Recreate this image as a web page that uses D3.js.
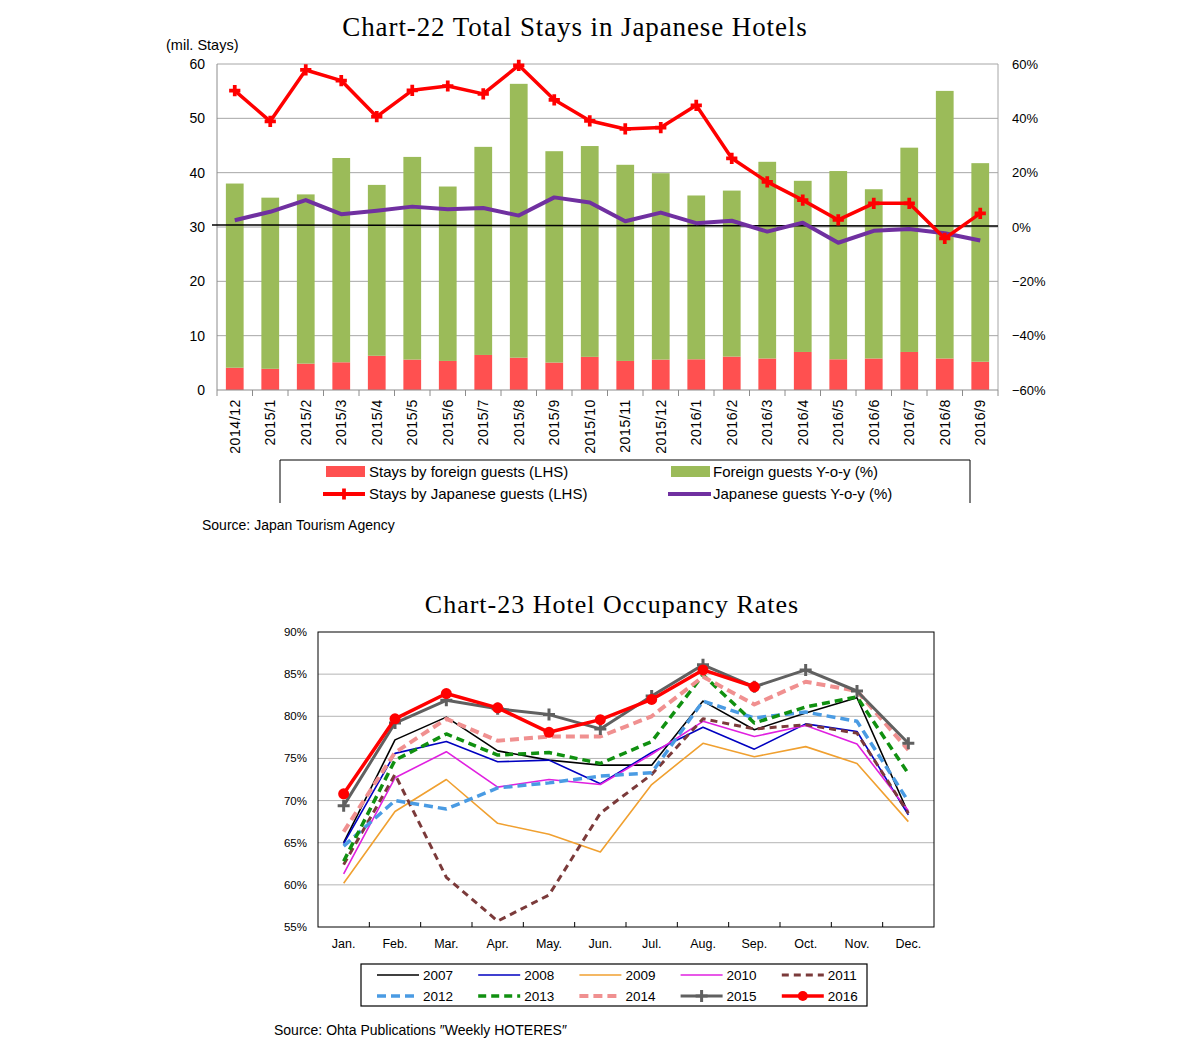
<!DOCTYPE html>
<html>
<head>
<meta charset="utf-8">
<script src="https://cdn.jsdelivr.net/npm/d3@7"></script>
<style>
  body { margin: 0; background: #fff; }
  text { font-family: "Liberation Sans", Arial, sans-serif; }
</style>
</head>
<body>
<svg id="chart" width="1201" height="1053"></svg>
<script>
// ---- Chart-22 data ----
var months22 = ["2014/12","2015/1","2015/2","2015/3","2015/4","2015/5","2015/6","2015/7","2015/8","2015/9","2015/10","2015/11","2015/12",
                "2016/1","2016/2","2016/3","2016/4","2016/5","2016/6","2016/7","2016/8","2016/9"];
var foreignStays  = [4.1, 3.9, 4.85, 5.1, 6.3, 5.6, 5.35, 6.45, 5.95, 5.05, 6.1, 5.35, 5.6, 5.65, 6.15, 5.8, 7.0, 5.65, 5.8, 7.0, 5.8, 5.2];
var japaneseStays = [33.9, 31.5, 31.15, 37.6, 31.45, 37.3, 32.1, 38.3, 50.4, 38.9, 38.8, 36.1, 34.3, 30.15, 30.55, 36.2, 31.5, 34.65, 31.15, 37.6, 49.25, 36.55];
var foreignYoy  = [50.2, 38.9, 57.8, 53.9, 40.6, 50.3, 51.9, 49.0, 59.5, 46.8, 39.1, 36.1, 36.6, 44.8, 25.3, 16.6, 9.9, 2.6, 8.7, 8.7, -4.2, 5.0];
var japaneseYoy = [2.5, 5.6, 9.9, 4.7, 6.0, 7.5, 6.5, 7.0, 4.2, 10.9, 9.0, 2.1, 5.3, 1.4, 2.3, -1.7, 1.6, -5.8, -1.4, -0.7, -2.3, -5.0];
var leftTicks  = [0, 10, 20, 30, 40, 50, 60];
var rightTicks = [-60, -40, -20, 0, 20, 40, 60];

// ---- Chart-23 data ----
var months23 = ["Jan.","Feb.","Mar.","Apr.","May.","Jun.","Jul.","Aug.","Sep.","Oct.","Nov.","Dec."];
var occ2007 = [65.0, 77.2, 79.9, 75.9, 74.8, 74.2, 74.2, 81.8, 78.4, 80.4, 82.2, 68.5];
var occ2008 = [64.9, 75.6, 77.0, 74.6, 74.8, 72.0, 75.7, 78.7, 76.1, 79.1, 78.2, 68.3];
var occ2009 = [60.2, 68.7, 72.5, 67.3, 66.0, 63.9, 71.9, 76.8, 75.2, 76.4, 74.4, 67.5];
var occ2010 = [61.3, 72.7, 75.8, 71.6, 72.5, 71.9, 75.5, 79.4, 77.6, 78.9, 76.7, 68.8];
var occ2011 = [62.4, 73.1, 60.9, 55.7, 58.8, 68.5, 73.1, 79.7, 78.5, 79.0, 78.0, 68.5];
var occ2012 = [64.6, 70.0, 69.0, 71.5, 72.1, 72.9, 73.3, 81.8, 79.8, 80.5, 79.4, 69.9];
var occ2013 = [62.8, 74.8, 77.9, 75.4, 75.7, 74.4, 77.0, 84.9, 79.2, 81.1, 82.3, 73.2];
var occ2014 = [66.3, 75.7, 79.7, 77.1, 77.6, 77.6, 80.0, 84.7, 81.4, 84.1, 83.0, 76.0];
var occ2015 = [69.4, 79.2, 81.9, 80.9, 80.2, 78.5, 82.4, 86.1, 83.5, 85.5, 83.0, 76.8];
var occ2016 = [70.8, 79.7, 82.7, 81.0, 78.1, 79.6, 82.0, 85.5, 83.5];
var occTicks = [55, 60, 65, 70, 75, 80, 85, 90];

var svg = d3.select("#chart");

// =================== Chart-22 ===================
var c22 = svg.append("g");
var x22 = d3.scaleBand().domain(months22).range([217, 998]).paddingInner(0.5).paddingOuter(0.25);
var yL = d3.scaleLinear().domain([0, 60]).range([390, 64]);
var yR = d3.scaleLinear().domain([-60, 60]).range([390, 64]);
var step22 = x22.step();

c22.append("text").attr("x", 575).attr("y", 36).attr("text-anchor", "middle")
  .style("font-family", "'Liberation Serif', 'DejaVu Serif', serif").style("font-size", "27px")
  .style("letter-spacing", "0.9px").style("font-weight", "500")
  .text("Chart-22 Total Stays in Japanese Hotels");

c22.append("text").attr("x", 166).attr("y", 50).style("font-size", "14.5px").text("(mil. Stays)");

// gridlines
c22.append("g").selectAll("line").data(leftTicks.slice(1)).enter().append("line")
  .attr("x1", 217).attr("x2", 998)
  .attr("y1", function(d) { return yL(d); }).attr("y2", function(d) { return yL(d); })
  .attr("stroke", "#a6a6a6").attr("stroke-width", 1);
c22.append("line").attr("x1", 998).attr("x2", 998).attr("y1", 64).attr("y2", 390).attr("stroke", "#a6a6a6");
c22.append("line").attr("x1", 217).attr("x2", 217).attr("y1", 64).attr("y2", 390).attr("stroke", "#8c8c8c");

// stacked bars
var barG = c22.append("g");
barG.selectAll("rect.f").data(months22).enter().append("rect")
  .attr("x", function(d) { return x22(d); }).attr("width", x22.bandwidth())
  .attr("y", function(d, i) { return yL(foreignStays[i]); })
  .attr("height", function(d, i) { return yL(0) - yL(foreignStays[i]); })
  .attr("fill", "#ff5050");
barG.selectAll("rect.j").data(months22).enter().append("rect")
  .attr("x", function(d) { return x22(d); }).attr("width", x22.bandwidth())
  .attr("y", function(d, i) { return yL(foreignStays[i] + japaneseStays[i]); })
  .attr("height", function(d, i) { return yL(foreignStays[i]) - yL(foreignStays[i] + japaneseStays[i]); })
  .attr("fill", "#9bbb59");

// x axis
c22.append("line").attr("x1", 217).attr("x2", 998).attr("y1", 390).attr("y2", 390).attr("stroke", "#8c8c8c");
c22.append("g").selectAll("line").data(d3.range(months22.length + 1)).enter().append("line")
  .attr("x1", function(i) { return 217 + i * step22; }).attr("x2", function(i) { return 217 + i * step22; })
  .attr("y1", 390).attr("y2", 396).attr("stroke", "#8c8c8c");
c22.append("g").selectAll("text").data(months22).enter().append("text")
  .attr("transform", function(d) { return "translate(" + (x22(d) + x22.bandwidth() / 2) + ",399) rotate(-90)"; })
  .attr("dy", "0.35em").attr("text-anchor", "end").style("font-size", "14px").style("letter-spacing", "0.6px")
  .text(function(d) { return d; });

// zero line for the right axis
c22.append("line").attr("x1", 212).attr("x2", 998).attr("y1", yR(0) - 2).attr("y2", yR(0) - 1)
  .attr("stroke", "#000").attr("stroke-width", 1.5);

// y axes labels
c22.append("g").selectAll("text").data(leftTicks).enter().append("text")
  .attr("x", 205).attr("y", function(d) { return yL(d); }).attr("dy", "0.35em")
  .attr("text-anchor", "end").style("font-size", "14px").text(function(d) { return d; });
c22.append("g").selectAll("text").data(rightTicks).enter().append("text")
  .attr("x", 1012).attr("y", function(d) { return yR(d); }).attr("dy", "0.35em")
  .style("font-size", "13px").text(function(d) { return (d < 0 ? "\u2212" + (-d) : d) + "%"; });

// lines
var lineF = d3.line().x(function(d, i) { return x22(months22[i]) + x22.bandwidth() / 2; }).y(function(d) { return yR(d); });
c22.append("path").datum(japaneseYoy).attr("d", lineF).attr("fill", "none")
  .attr("stroke", "#7030a0").attr("stroke-width", 4).attr("stroke-linejoin", "round");
c22.append("path").datum(foreignYoy).attr("d", lineF).attr("fill", "none")
  .attr("stroke", "#ff0000").attr("stroke-width", 3.5).attr("stroke-linejoin", "round");
var cross = d3.symbol().type(d3.symbolCross).size(70);
c22.append("g").selectAll("path").data(foreignYoy).enter().append("path")
  .attr("transform", function(d, i) { return "translate(" + (x22(months22[i]) + x22.bandwidth() / 2) + "," + yR(d) + ")"; })
  .attr("d", cross).attr("fill", "#ff0000");

// legend
var lg22 = c22.append("g");
lg22.append("path").attr("d", "M280,503V460H970V503").attr("fill", "none").attr("stroke", "#000").attr("stroke-width", 1);
lg22.append("rect").attr("x", 326).attr("y", 466).attr("width", 39).attr("height", 11).attr("fill", "#ff5050");
lg22.append("rect").attr("x", 671).attr("y", 466).attr("width", 39).attr("height", 11).attr("fill", "#9bbb59");
lg22.append("line").attr("x1", 323).attr("x2", 365).attr("y1", 494).attr("y2", 494).attr("stroke", "#ff0000").attr("stroke-width", 4);
lg22.append("path").attr("transform", "translate(344,494)").attr("d", cross).attr("fill", "#ff0000");
lg22.append("line").attr("x1", 668).attr("x2", 711).attr("y1", 494).attr("y2", 494).attr("stroke", "#7030a0").attr("stroke-width", 4);
var lgText22 = [["Stays by foreign guests (LHS)", 369, 472], ["Foreign guests Y-o-y (%)", 713, 472],
                ["Stays by Japanese guests (LHS)", 369, 494], ["Japanese guests Y-o-y (%)", 713, 494]];
lg22.selectAll("text").data(lgText22).enter().append("text")
  .attr("x", function(d) { return d[1]; }).attr("y", function(d) { return d[2]; }).attr("dy", "0.35em")
  .style("font-size", "15px").text(function(d) { return d[0]; });

c22.append("text").attr("x", 202).attr("y", 530).style("font-size", "14px").text("Source: Japan Tourism Agency");

// =================== Chart-23 ===================
var c23 = svg.append("g");
var x23 = d3.scalePoint().domain(months23).range([318, 934]).padding(0.5);
var y23 = d3.scaleLinear().domain([55, 90]).range([927, 632]);
var step23 = x23.step();

c23.append("text").attr("x", 612).attr("y", 613).attr("text-anchor", "middle")
  .style("font-family", "'Liberation Serif', 'DejaVu Serif', serif").style("font-size", "26px")
  .style("letter-spacing", "1px").style("font-weight", "500")
  .text("Chart-23 Hotel Occupancy Rates");

c23.append("g").selectAll("line").data(occTicks.slice(1, -1)).enter().append("line")
  .attr("x1", 318).attr("x2", 934)
  .attr("y1", function(d) { return y23(d); }).attr("y2", function(d) { return y23(d); })
  .attr("stroke", "#b4b4b4");
c23.append("rect").attr("x", 318).attr("y", 632).attr("width", 616).attr("height", 295)
  .attr("fill", "none").attr("stroke", "#000").attr("stroke-width", 1);
c23.append("g").selectAll("line").data(d3.range(1, months23.length)).enter().append("line")
  .attr("x1", function(i) { return 318 + i * step23; }).attr("x2", function(i) { return 318 + i * step23; })
  .attr("y1", 927).attr("y2", 922).attr("stroke", "#000");

c23.append("g").selectAll("text").data(occTicks).enter().append("text")
  .attr("x", 307).attr("y", function(d) { return y23(d); }).attr("dy", "0.35em")
  .attr("text-anchor", "end").style("font-size", "11.5px").text(function(d) { return d + "%"; });
c23.append("g").selectAll("text").data(months23).enter().append("text")
  .attr("x", function(d) { return x23(d); }).attr("y", 948).attr("text-anchor", "middle")
  .style("font-size", "12.5px").text(function(d) { return d; });

var series23 = [
  { name: "2007", values: occ2007, color: "#000000", width: 1.6, dash: null },
  { name: "2008", values: occ2008, color: "#0000c0", width: 1.6, dash: null },
  { name: "2009", values: occ2009, color: "#f0a030", width: 1.6, dash: null },
  { name: "2010", values: occ2010, color: "#e020e0", width: 1.6, dash: null },
  { name: "2011", values: occ2011, color: "#7b3a3a", width: 3, dash: "7,5" },
  { name: "2012", values: occ2012, color: "#4a9be3", width: 3.5, dash: "9,5" },
  { name: "2013", values: occ2013, color: "#109010", width: 3.5, dash: "8,5" },
  { name: "2014", values: occ2014, color: "#f09090", width: 4, dash: "9,5" },
  { name: "2015", values: occ2015, color: "#606060", width: 3, dash: null, marker: "plus" },
  { name: "2016", values: occ2016, color: "#ff0000", width: 3.5, dash: null, marker: "circle" }
];

var line23 = d3.line().x(function(d, i) { return x23(months23[i]); }).y(function(d) { return y23(d); });
var plusPath = "M-6,0H6M0,-6V6";

series23.forEach(function(s) {
  c23.append("path").datum(s.values).attr("d", line23).attr("fill", "none")
    .attr("stroke", s.color).attr("stroke-width", s.width).attr("stroke-dasharray", s.dash)
    .attr("stroke-linejoin", "round");
  if (s.marker === "plus") {
    c23.append("g").selectAll("path").data(s.values).enter().append("path")
      .attr("transform", function(d, i) { return "translate(" + x23(months23[i]) + "," + y23(d) + ")"; })
      .attr("d", plusPath).attr("stroke", s.color).attr("stroke-width", 3);
  }
  if (s.marker === "circle") {
    c23.append("g").selectAll("circle").data(s.values).enter().append("circle")
      .attr("cx", function(d, i) { return x23(months23[i]); }).attr("cy", function(d) { return y23(d); })
      .attr("r", 5.5).attr("fill", s.color);
  }
});

// legend
var lg23 = c23.append("g");
lg23.append("rect").attr("x", 361).attr("y", 964).attr("width", 506).attr("height", 42)
  .attr("fill", "#fff").attr("stroke", "#000").attr("stroke-width", 1.2);
series23.forEach(function(s, i) {
  var col = i % 5, row = Math.floor(i / 5);
  var lx = 377 + col * 101.2, ly = 975 + row * 21;
  lg23.append("line").attr("x1", lx).attr("x2", lx + 42).attr("y1", ly).attr("y2", ly)
    .attr("stroke", s.color).attr("stroke-width", s.width).attr("stroke-dasharray", s.dash);
  if (s.marker === "plus") {
    lg23.append("path").attr("transform", "translate(" + (lx + 21) + "," + ly + ")").attr("d", plusPath)
      .attr("stroke", s.color).attr("stroke-width", 3);
  }
  if (s.marker === "circle") {
    lg23.append("circle").attr("cx", lx + 21).attr("cy", ly).attr("r", 5).attr("fill", s.color);
  }
  lg23.append("text").attr("x", lx + 46).attr("y", ly).attr("dy", "0.35em")
    .style("font-size", "13.5px").text(s.name);
});

c23.append("text").attr("x", 274).attr("y", 1035).style("font-size", "14px")
  .text("Source: Ohta Publications \u2033Weekly HOTERES\u2033");
</script>
</body>
</html>
